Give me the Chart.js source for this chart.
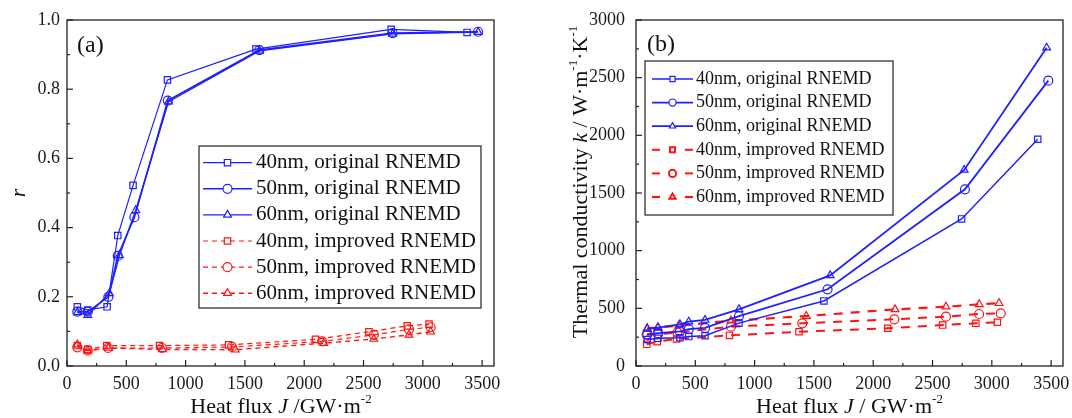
<!DOCTYPE html>
<html>
<head>
<meta charset="utf-8">
<script src="https://cdn.jsdelivr.net/npm/chart.js@4.4.0/dist/chart.umd.min.js"></script>
<style>
  html, body { margin: 0; padding: 0; background: #fff; width: 1072px; height: 418px; overflow: hidden; }
  #wrap-a { position: absolute; left: 0; top: 0; width: 540px; height: 418px; }
  #wrap-b { position: absolute; left: 540px; top: 0; width: 532px; height: 418px; }
</style>
</head>
<body>
<div id="wrap-a"><canvas id="chart-a" width="540" height="418"></canvas></div>
<div id="wrap-b"><canvas id="chart-b" width="532" height="418"></canvas></div>
<script>
// (a) ratio r vs heat flux J
const J_A40_ORIG = [87, 175, 338, 428, 557, 847, 1593, 2733, 3373];
const R_A40_ORIG = [0.171, 0.162, 0.171, 0.377, 0.522, 0.827, 0.916, 0.973, 0.964];
const J_A50_ORIG = [87, 175, 349, 428, 568, 850, 1622, 2745, 3466];
const R_A50_ORIG = [0.157, 0.157, 0.2, 0.318, 0.43, 0.767, 0.913, 0.962, 0.966];
const J_A60_ORIG = [87, 175, 357, 442, 580, 856, 1622, 2745, 3466];
const R_A60_ORIG = [0.155, 0.147, 0.21, 0.32, 0.45, 0.764, 0.911, 0.96, 0.965];

const J_A40_IMP = [87, 175, 335, 780, 1362, 2095, 2545, 2869, 3052];
const R_A40_IMP = [0.059, 0.048, 0.059, 0.059, 0.061, 0.077, 0.099, 0.116, 0.121];
const J_A50_IMP = [87, 175, 345, 800, 1391, 2151, 2587, 2883, 3066];
const R_A50_IMP = [0.054, 0.045, 0.052, 0.052, 0.055, 0.071, 0.09, 0.106, 0.112];
const J_A60_IMP = [87, 175, 350, 805, 1419, 2165, 2587, 2883, 3066];
const R_A60_IMP = [0.062, 0.044, 0.052, 0.048, 0.047, 0.066, 0.078, 0.09, 0.099];

// (b) thermal conductivity k vs heat flux J
const J_B40_ORIG = [95, 185, 370, 445, 582, 868, 1584, 2745, 3387];
const K_B40_ORIG = [230, 240, 245, 255, 262, 372, 564, 1275, 1966];
const J_B50_ORIG = [95, 185, 370, 445, 582, 868, 1615, 2773, 3476];
const K_B50_ORIG = [275, 285, 300, 320, 330, 433, 665, 1532, 2474];
const J_B60_ORIG = [95, 185, 370, 445, 582, 868, 1637, 2767, 3462];
const K_B60_ORIG = [321, 332, 361, 384, 399, 491, 786, 1700, 2760];

const J_B40_IMP = [90, 179, 342, 788, 1374, 2122, 2585, 2865, 3047];
const K_B40_IMP = [188, 211, 234, 265, 297, 327, 355, 370, 379];
const J_B50_IMP = [90, 185, 350, 801, 1402, 2178, 2613, 2893, 3075];
const K_B50_IMP = [270, 275, 290, 341, 370, 405, 428, 451, 457];
const J_B60_IMP = [95, 185, 360, 801, 1436, 2184, 2613, 2893, 3061];
const K_B60_IMP = [327, 335, 350, 393, 433, 491, 514, 535, 544];

const LABELS = [
  "40nm, original RNEMD",
  "50nm, original RNEMD",
  "60nm, original RNEMD",
  "40nm, improved RNEMD",
  "50nm, improved RNEMD",
  "60nm, improved RNEMD",
];

const X_TICKS = [0, 500, 1000, 1500, 2000, 2500, 3000, 3500];
const Y_TICKS_A = [0, 0.2, 0.4, 0.6, 0.8, 1.0];
const Y_TICKS_B = [0, 500, 1000, 1500, 2000, 2500, 3000];

const FONT = "'Liberation Serif', 'DejaVu Serif', serif";
const BLUE = "#1f1fff";
const RED = "#ff1414";
const NONE = "rgba(0,0,0,0)";

// per-canvas extras: frame ticks, titles, panel tag, legend box
const PANEL_CFG = {
  "chart-a": {
    xMinor: 250,
    yMinor: 0.1,
    tag: { text: "(a)", x: 77, y: 46 },
    xTitle: { x: 281, y: 407, parts: [["Heat flux "], ["J", "i"], [" /GW·m"], ["-2", "s"]] },
    yTitle: { x: 19, y: 193, parts: [["r", "i"]] },
    legend: { box: [199, 146, 481, 308], row0: 162.7, rowStep: 26.1, x0: 203, x1: 252, text: 256, size: 21, marker: 4.5, ends: false },
  },
  "chart-b": {
    xMinor: 250,
    yMinor: 250,
    tag: { text: "(b)", x: 107, y: 45 },
    xTitle: { x: 309.5, y: 407, parts: [["Heat flux "], ["J", "i"], [" / GW·m"], ["-2", "s"]] },
    yTitle: { x: 41, y: 182, parts: [["Thermal conductivity "], ["k", "i"], [" / W·m"], ["-1", "s"], ["·K"], ["-1", "s"]] },
    legend: { box: [105, 61, 353, 215], row0: 79, rowStep: 23.6, x0: 112, x1: 153, text: 156, size: 18, marker: 3.6, ends: true },
  },
};

function series(label, xs, ys, color, style, width, dash) {
  return {
    label,
    data: xs.map((x, i) => ({ x, y: ys[i] })),
    borderColor: color,
    backgroundColor: NONE,
    borderWidth: width,
    borderDash: dash,
    pointStyle: style,
    pointRadius: 4.5,
    pointBorderWidth: 1.2,
    pointBorderColor: color,
    pointBackgroundColor: NONE,
    tension: 0,
    fill: false,
  };
}

function partFont(p, size) {
  const s = p[1] === "s" ? Math.round(size * 0.6) : size;
  return (p[1] === "i" ? "italic " : "") + s + "px " + FONT;
}

function drawRich(ctx, parts, cx, cy, size, angle) {
  ctx.save();
  ctx.translate(cx, cy);
  ctx.rotate(angle);
  ctx.textBaseline = "middle";
  ctx.textAlign = "left";
  ctx.fillStyle = "#111";
  let w = 0;
  for (const p of parts) {
    ctx.font = partFont(p, size);
    w += ctx.measureText(p[0]).width;
  }
  let x = -w / 2;
  for (const p of parts) {
    ctx.font = partFont(p, size);
    ctx.fillText(p[0], x, p[1] === "s" ? -size * 0.36 : 0);
    x += ctx.measureText(p[0]).width;
  }
  ctx.restore();
}

function tick(ctx, x0, y0, x1, y1) {
  ctx.beginPath();
  ctx.moveTo(x0, y0);
  ctx.lineTo(x1, y1);
  ctx.stroke();
}

const panelPlugin = {
  id: "panel",
  afterDatasetsDraw(chart) {
    const cfg = PANEL_CFG[chart.canvas.id];
    const { ctx, chartArea: a, scales } = chart;
    ctx.save();
    ctx.strokeStyle = "#222";
    ctx.lineWidth = 1.3;
    ctx.strokeRect(a.left, a.top, a.right - a.left, a.bottom - a.top);

    // inward ticks
    ctx.lineWidth = 1.2;
    const xs = scales.x;
    for (let i = 0; i * cfg.xMinor <= xs.max + 1e-9; i++) {
      const px = xs.getPixelForValue(i * cfg.xMinor);
      tick(ctx, px, a.bottom, px, a.bottom - (i % 2 === 0 ? 6 : 3));
    }
    const ys = scales.y;
    for (let i = 0; i * cfg.yMinor <= ys.max + 1e-9; i++) {
      const py = ys.getPixelForValue(i * cfg.yMinor);
      tick(ctx, a.left, py, a.left + (i % 2 === 0 ? 6 : 3), py);
    }

    // titles and tag
    drawRich(ctx, cfg.xTitle.parts, cfg.xTitle.x, cfg.xTitle.y, 22, 0);
    drawRich(ctx, cfg.yTitle.parts, cfg.yTitle.x, cfg.yTitle.y, 22, -Math.PI / 2);
    ctx.fillStyle = "#111";
    ctx.font = "24px " + FONT;
    ctx.textBaseline = "middle";
    ctx.textAlign = "left";
    ctx.fillText(cfg.tag.text, cfg.tag.x, cfg.tag.y);

    // legend box
    const lg = cfg.legend;
    const [bx0, by0, bx1, by1] = lg.box;
    ctx.fillStyle = "#fff";
    ctx.fillRect(bx0, by0, bx1 - bx0, by1 - by0);
    ctx.strokeStyle = "#222";
    ctx.lineWidth = 1.2;
    ctx.strokeRect(bx0, by0, bx1 - bx0, by1 - by0);
    chart.data.datasets.forEach((ds, i) => {
      const y = lg.row0 + i * lg.rowStep;
      const dashed = ds.borderDash.length > 0;
      ctx.strokeStyle = ds.borderColor;
      ctx.lineWidth = ds.borderWidth;
      if (dashed && lg.ends) {
        // short dash at each end, marker in the middle
        tick(ctx, lg.x0, y, lg.x0 + 8, y);
        tick(ctx, lg.x1 - 8, y, lg.x1, y);
      } else {
        ctx.setLineDash(dashed ? ds.borderDash : []);
        tick(ctx, lg.x0, y, lg.x1, y);
        ctx.setLineDash([]);
      }
      ctx.lineWidth = dashed && lg.ends ? 2 : ds.pointBorderWidth;
      ctx.fillStyle = "#fff";
      Chart.helpers.drawPoint(ctx, { pointStyle: ds.pointStyle, radius: lg.marker, rotation: 0, borderWidth: ctx.lineWidth }, (lg.x0 + lg.x1) / 2, y);
      ctx.fillStyle = "#111";
      ctx.font = lg.size + "px " + FONT;
      ctx.textBaseline = "middle";
      ctx.textAlign = "left";
      ctx.fillText(ds.label, lg.text, y);
    });
    ctx.restore();
  },
};

function axisOpts(min, max, tickValues, fit, padding, fmt) {
  return {
    type: "linear",
    min,
    max,
    afterBuildTicks: (s) => { s.ticks = tickValues.map((v) => ({ value: v })); },
    afterFit: fit,
    grid: { display: false, drawTicks: false },
    border: { display: false },
    ticks: {
      padding,
      maxRotation: 0,
      autoSkip: false,
      color: "#1a1a1a",
      font: { family: FONT, size: 18 },
      callback: fmt,
    },
  };
}

function makeChart(id, datasets, yMax, yTicks, yFmt, yWidth, padRight, yPad) {
  return new Chart(document.getElementById(id), {
    type: "line",
    data: { datasets },
    options: {
      responsive: false,
      animation: false,
      events: [],
      layout: { padding: { left: 0, right: padRight, top: 20, bottom: 0 } },
      plugins: { legend: { display: false }, tooltip: { enabled: false } },
      scales: {
        x: axisOpts(0, 3600, X_TICKS, (s) => { s.height = 52; s.paddingLeft = 0; s.paddingRight = 0; }, 7, (v) => String(v)),
        y: axisOpts(0, yMax, yTicks, (s) => { s.width = yWidth; s.paddingTop = 0; s.paddingBottom = 0; }, yPad, yFmt),
      },
    },
    plugins: [panelPlugin],
  });
}

const DASH_A = [5, 4];
const DASH_B = [9, 8];

makeChart("chart-a", [
  series(LABELS[0], J_A40_ORIG, R_A40_ORIG, BLUE, "rect", 1.2, []),
  series(LABELS[1], J_A50_ORIG, R_A50_ORIG, BLUE, "circle", 1.6, []),
  series(LABELS[2], J_A60_ORIG, R_A60_ORIG, BLUE, "triangle", 1.4, []),
  series(LABELS[3], J_A40_IMP, R_A40_IMP, RED, "rect", 1.2, DASH_A),
  series(LABELS[4], J_A50_IMP, R_A50_IMP, RED, "circle", 1.2, DASH_A),
  series(LABELS[5], J_A60_IMP, R_A60_IMP, RED, "triangle", 1.4, DASH_A),
], 1, Y_TICKS_A, (v) => v.toFixed(1), 67, 46, 7);

makeChart("chart-b", [
  series(LABELS[0], J_B40_ORIG, K_B40_ORIG, BLUE, "rect", 1.5, []),
  series(LABELS[1], J_B50_ORIG, K_B50_ORIG, BLUE, "circle", 1.8, []),
  series(LABELS[2], J_B60_ORIG, K_B60_ORIG, BLUE, "triangle", 1.8, []),
  series(LABELS[3], J_B40_IMP, K_B40_IMP, RED, "rect", 2, DASH_B),
  series(LABELS[4], J_B50_IMP, K_B50_IMP, RED, "circle", 2, DASH_B),
  series(LABELS[5], J_B60_IMP, K_B60_IMP, RED, "triangle", 2.2, DASH_B),
], 3000, Y_TICKS_B, (v) => String(v), 96, 9, 11);
</script>
</body>
</html>
